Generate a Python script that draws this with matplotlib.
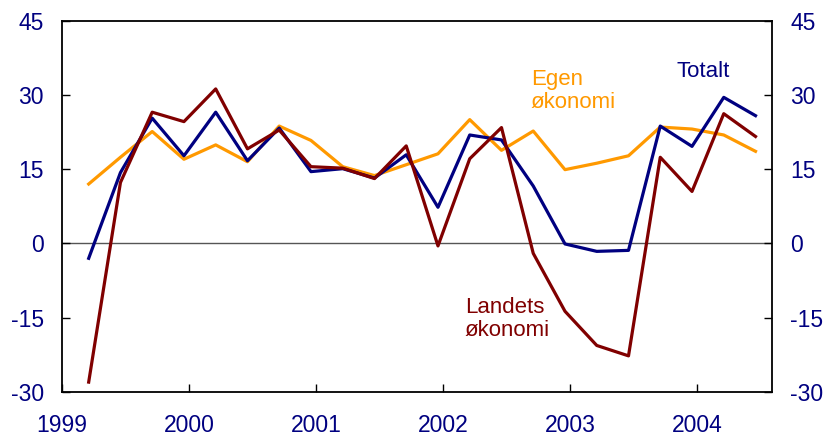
import matplotlib
matplotlib.use("Agg")
import matplotlib.pyplot as plt
import numpy as np

plt.rcParams['font.family'] = ['Liberation Sans', 'DejaVu Sans']

# quarterly data 1999Q1 - 2004Q2
start = 1999.21
totalt = [-3.0, 14.3, 25.3, 17.7, 26.5, 16.7, 23.3, 14.5, 15.1, 13.2, 17.9, 7.3,
          21.9, 20.9, 11.6, -0.1, -1.6, -1.4, 23.7, 19.6, 29.5, 25.8]
landets = [-28.0, 12.3, 26.5, 24.6, 31.2, 19.1, 22.9, 15.5, 15.2, 13.1, 19.7, -0.5,
           17.1, 23.4, -2.0, -13.7, -20.6, -22.7, 17.4, 10.5, 26.2, 21.6]
egen = [12.0, 17.4, 22.6, 17.0, 19.9, 16.5, 23.7, 20.8, 15.5, 13.7, 15.9, 18.1,
        25.0, 18.8, 22.7, 14.9, 16.2, 17.7, 23.5, 23.1, 21.9, 18.6]
years = [1999, 2000, 2001, 2002, 2003, 2004]
yticks = [-30, -15, 0, 15, 30, 45]

x = start + 0.25 * np.arange(len(totalt))

navy = '#000080'
dred = '#800000'
orange = '#FF9900'

fig = plt.figure(figsize=(8.28, 4.38), dpi=100)
ax = fig.add_axes([0.0749, 0.105, 0.9324 - 0.0749, 0.953 - 0.105])

ax.axhline(0, color='#555555', lw=1.0, zorder=1)
ax.plot(x, egen, color=orange, lw=2.3, zorder=3)
ax.plot(x, totalt, color=navy, lw=2.3, zorder=4)
ax.plot(x, landets, color=dred, lw=2.3, zorder=5)

ax.set_xlim(1999, 2004.59)
ax.set_ylim(-30, 45)
ax.set_xticks(years)
ax.set_xticklabels([str(y) for y in years])
ax.set_yticks(yticks)
ax.set_yticklabels([str(v) for v in yticks])

ax.tick_params(axis='y', direction='in', length=6, width=1, left=True, right=True,
               labelleft=True, labelright=True, labelsize=16.5, labelcolor=navy, pad=13)
ax.tick_params(axis='x', direction='in', length=6, width=1, labelsize=16.5,
               labelcolor=navy, pad=16)
for s in ax.spines.values():
    s.set_linewidth(1.3)
    s.set_color('black')

fs = 16
ax.text(2003.84, 34.8, 'Totalt', color=navy, fontsize=fs, ha='left', va='center')
ax.text(2002.69, 30.8, 'Egen\nøkonomi', color=orange, fontsize=fs, ha='left',
        va='center', linespacing=1.15)
ax.text(2002.17, -15.3, 'Landets\nøkonomi', color=dred, fontsize=fs, ha='left',
        va='center', linespacing=1.15)

fig.savefig('out.png', dpi=100)
